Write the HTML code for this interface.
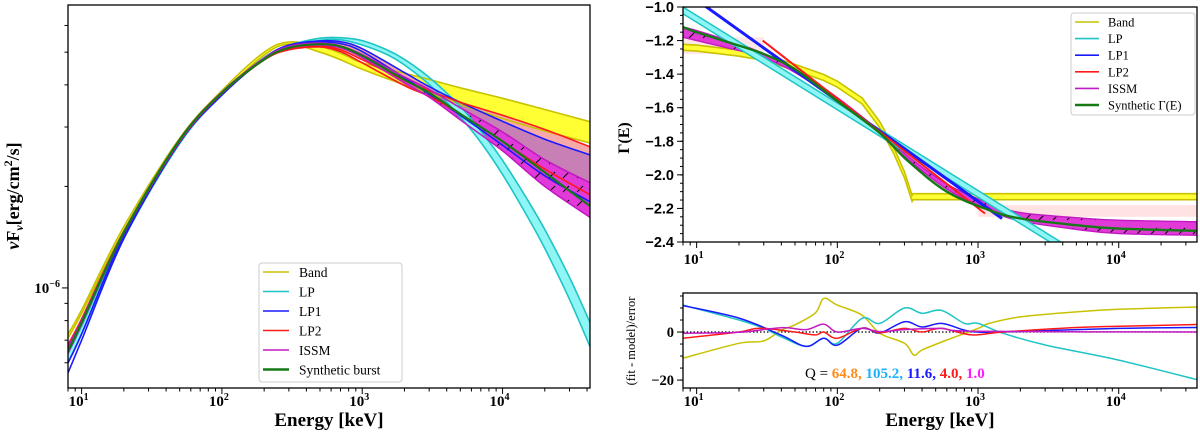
<!DOCTYPE html>
<html><head><meta charset="utf-8">
<style>
html,body{margin:0;padding:0;background:#fff;}
svg{display:block;font-family:"Liberation Serif","DejaVu Serif",serif;}
</style></head>
<body>
<svg id="fig" width="1200" height="434" viewBox="0 0 1200 434" xmlns="http://www.w3.org/2000/svg">
<defs>
<pattern id="hatch" width="14" height="14" patternUnits="userSpaceOnUse">
<path d="M3,10 L9,4" stroke="#000" stroke-width="1"/>
</pattern>
</defs>
<g id="left"></g><g id="rtop"></g><g id="rbot"></g>
</svg>
<script>
// ---------- LEFT PANEL DATA (nuFnu in units of 1e-6) ----------
const E_L = [8,10,20,50,100,200,300,500,700,1000,2000,3000,5000,10000,20000,42000];
const band_hi = [0.73,0.86,1.52,2.78,3.85,5.0,5.36,5.2,4.97,4.65,4.33,4.15,3.92,3.65,3.38,3.11];
const band_lo = [0.71,0.84,1.48,2.72,3.75,4.9,5.28,5.0,4.75,4.45,4.0,3.78,3.5,3.18,2.92,2.69];
const E_LP = [8,10,20,50,100,200,300,500,700,1000,1500,2000,3000,5000,7000,10000,15000,20000,30000,42000];
const lp_hi = [0.64,0.77,1.44,2.72,3.77,4.82,5.23,5.5,5.52,5.41,5.08,4.76,4.21,3.45,2.92,2.39,1.83,1.49,1.075,0.79];
const lp_lo = [0.6,0.73,1.4,2.68,3.73,4.76,5.15,5.42,5.44,5.25,4.92,4.58,4.01,3.21,2.70,2.17,1.63,1.31,0.925,0.67];
const lp1_hi = [0.6,0.73,1.43,2.73,3.76,4.8,5.25,5.4,5.37,5.12,4.35,3.95,3.55,3.12,2.76,2.48];
const lp1_lo = [0.56,0.7,1.4,2.7,3.73,4.77,5.2,5.35,5.3,5.02,4.2,3.75,3.25,2.65,2.15,1.8];
const lp2_hi = [0.68,0.81,1.47,2.74,3.79,4.76,5.12,5.22,5.08,4.75,4.12,3.85,3.55,3.25,2.95,2.62];
const lp2_lo = [0.66,0.79,1.45,2.72,3.77,4.74,5.08,5.18,5.02,4.65,3.98,3.7,3.28,2.72,2.25,1.89];
const issm_hi = [0.67,0.8,1.47,2.76,3.81,4.8,5.2,5.32,5.22,4.92,4.22,3.88,3.42,2.9,2.4,2.05];
const issm_lo = [0.64,0.78,1.45,2.73,3.78,4.76,5.14,5.25,5.15,4.82,4.05,3.68,3.15,2.55,2.0,1.62];
const synth_L = [0.65,0.79,1.46,2.75,3.79,4.76,5.15,5.28,5.2,4.88,4.14,3.79,3.28,2.72,2.2,1.75];
const xTicks = [10,100,1000,10000];
const xTickExp = ["1","2","3","4"];
const yMinorL = [0.6,0.7,0.8,0.9,2,3,4,5,6];

// ---------- RIGHT TOP DATA (Gamma) ----------
const E_band = [8,10,20,30,50,80,100,150,200,250,300,340,345,1000,42000];
const g_band = [-1.24,-1.245,-1.275,-1.3,-1.36,-1.42,-1.46,-1.56,-1.7,-1.85,-2.0,-2.14,-2.13,-2.13,-2.13];
const g_band_half = 0.018;
const E_lp = [8,42000];
const g_lp = [-1.02,-2.96];
const g_lp_half = 0.02;
const E_lp1 = [8,1480];
const g_lp1 = [-0.9,-2.26];
const E_lp2 = [29.5,1120];
const g_lp2 = [-1.2,-2.23];
const E_is = [8,10,20,30,50,100,200,320,600,1200,2000,5000,10000,42000];
const g_is = [-1.15,-1.17,-1.24,-1.29,-1.38,-1.55,-1.75,-1.9,-2.07,-2.19,-2.25,-2.29,-2.31,-2.32];
const g_is_half = [0.03,0.03,0.02,0.012,0.01,0.01,0.01,0.01,0.015,0.02,0.025,0.035,0.04,0.04];
const g_syn = [-1.12,-1.15,-1.23,-1.28,-1.37,-1.56,-1.75,-1.92,-2.1,-2.21,-2.26,-2.3,-2.32,-2.335];
const gTicks = [-1.0,-1.2,-1.4,-1.6,-1.8,-2.0,-2.2,-2.4];
const gTickLabels = ["−1.0","−1.2","−1.4","−1.6","−1.8","−2.0","−2.2","−2.4"];

// ---------- RIGHT BOTTOM DATA (residuals) ----------
const E_ry = [8,20,30,40,50,70,80,100,150,200,300,350,400,600,1000,1200,2000,5000,10000,42000];
const r_band = [-10.9,-4.7,-3.7,0.8,3,8,14,11.2,7,-0.5,-4.7,-9.6,-7.5,-3.3,1.5,3.6,6.3,8.4,9.5,10.5];
const E_rc = [8,20,30,40,60,80,100,150,200,300,400,550,800,1000,1500,3000,10000,42000];
const r_lp = [11.2,5,1.6,-2,-6,-2.6,-4.7,5.7,3.6,10,7.8,9,3.6,3.6,-0.5,-5.4,-11.7,-20.8];
const E_rb = [8,20,40,60,80,100,150,200,300,400,550,800,1000,1500,10000,42000];
const r_lp1 = [11,5.8,-1.3,-6,-2.6,-5.5,1.6,-0.4,4.3,2.1,3.6,0.8,0,0,1.5,1.9];
const E_rr = [8,20,28,50,70,80,100,150,200,300,400,550,900,1500,5000,10000,42000];
const r_lp2 = [-2.6,0,1.6,0,-1.2,0,-2.6,1.6,-0.3,1.5,0,1.5,-1.2,0,1.9,2.4,3.2];
const E_rm = [8,20,40,60,80,100,150,200,300,550,1000,42000];
const r_issm = [-0.5,-0.1,1.8,1,3.3,0,1.5,0.2,1,1.5,0.3,0];
const rTicks = [0,-20];
const rTickLabels = ["0","−20"];
const qValues = ["64.8,","105.2,","11.6,","4.0,","1.0"];
const qColors = ["#ff8c1a","#1ab2ff","#1a1aff","#ff1a1a","#ff1aff"];

// ---------- helpers ----------
const NS="http://www.w3.org/2000/svg";
function mk(parent,tag,attrs){const e=document.createElementNS(NS,tag);for(const k in attrs)e.setAttribute(k,attrs[k]);parent.appendChild(e);return e;}
function logX(x0,x1,emin,emax){const a=Math.log10(emin),b=Math.log10(emax);return e=>x0+(Math.log10(e)-a)/(b-a)*(x1-x0);}
function linY(y0,y1,vmin,vmax){return v=>y1-(v-vmin)/(vmax-vmin)*(y1-y0);}
function logY(y0,y1,vmin,vmax){const a=Math.log10(vmin),b=Math.log10(vmax);return v=>y1-(Math.log10(v)-a)/(b-a)*(y1-y0);}
function smooth(pts){
  if(pts.length<3) return "M"+pts.map(p=>p[0].toFixed(1)+","+p[1].toFixed(1)).join(" L");
  let d="M"+pts[0][0].toFixed(1)+","+pts[0][1].toFixed(1);
  for(let i=0;i<pts.length-1;i++){
    const p0=pts[Math.max(0,i-1)],p1=pts[i],p2=pts[i+1],p3=pts[Math.min(pts.length-1,i+2)];
    const c1=[p1[0]+(p2[0]-p0[0])/6,p1[1]+(p2[1]-p0[1])/6];
    const c2=[p2[0]-(p3[0]-p1[0])/6,p2[1]-(p3[1]-p1[1])/6];
    d+=" C"+c1[0].toFixed(1)+","+c1[1].toFixed(1)+" "+c2[0].toFixed(1)+","+c2[1].toFixed(1)+" "+p2[0].toFixed(1)+","+p2[1].toFixed(1);
  }
  return d;
}
function pts(E,V,X,Y){return E.map((e,i)=>[X(e),Y(V[i])]);}
function lin(pts){return "M"+pts.map(p=>p[0].toFixed(1)+","+p[1].toFixed(1)).join(" L");}
function bandPath(E,hi,lo,X,Y,sm){const a=pts(E,hi,X,Y),b=pts(E,lo,X,Y).reverse();
  const f=sm?smooth:lin; return f(a)+" L"+f(b).slice(1)+" Z";}
function xAxis(g,X,x0,x1,yb,labelY){
  for(let d=0;d<5;d++)for(let m=1;m<10;m++){const e=m*Math.pow(10,d);const x=X(e);if(x<x0-0.5||x>x1+0.5)continue;
    const t=mk(g,"line",{x1:x,x2:x,y1:yb,y2:yb+(m===1?6:3.5),stroke:"#000","stroke-width":1});
    
    }
  xTicks.forEach((e,i)=>{const t=mk(g,"text",{x:X(e)-3,y:labelY,"font-size":15,"text-anchor":"middle","font-weight":"bold"});
    
    
    t.textContent="10";const s=mk(t,"tspan",{dy:-6,"font-size":10});s.textContent=xTickExp[i];});
}

// ---------- LEFT PANEL ----------
(function(){
  const g=document.getElementById("left");
  const x0=68,x1=590,y0=5,y1=388;
  const X=logX(x0,x1,8,42000), Y=logY(y0,y1,0.505,6.9);
  const cp=mk(g,"clipPath",{id:"clipL"});mk(cp,"rect",{x:x0,y:y0,width:x1-x0,height:y1-y0});
  const p=mk(g,"g",{"clip-path":"url(#clipL)"});
  
  
  let e;
  e=mk(p,"path",{d:bandPath(E_L,band_hi,band_lo,X,Y,true),fill:"#ffff33",stroke:"none"});
  
  e=mk(p,"path",{d:bandPath(E_L,lp2_hi,issm_lo,X,Y,true),fill:"#c77fb5",stroke:"none"});
  
  e=mk(p,"path",{d:bandPath(E_L,lp2_hi,lp1_hi,X,Y,true),fill:"#f7a8a8",stroke:"none"});
  
  e=mk(p,"path",{d:bandPath(E_L,issm_hi,issm_lo,X,Y,true),fill:"#e23ad8",stroke:"none"});
  
  e=mk(p,"path",{d:bandPath(E_L,issm_hi,issm_lo,X,Y,true),fill:"url(#hatch)",stroke:"none"});
  
  e=mk(p,"path",{d:bandPath(E_LP,lp_hi,lp_lo,X,Y,true),fill:"#8ff5f5",stroke:"none"});
  
  const lines=[[E_L,band_hi,"#c8c200","band-upper"],[E_L,band_lo,"#c8c200","band-lower"],[E_LP,lp_hi,"#1fc4c4","lp-upper"],[E_LP,lp_lo,"#1fc4c4","lp-lower"],
    [E_L,lp1_hi,"#1a1aff","lp1-upper"],[E_L,lp1_lo,"#1a1aff","lp1-lower"],[E_L,lp2_hi,"#ff1a1a","lp2-upper"],[E_L,lp2_lo,"#ff1a1a","lp2-lower"],
    [E_L,issm_hi,"#c21ac2","issm-upper"],[E_L,issm_lo,"#c21ac2","issm-lower"]];
  lines.forEach(l=>{const q=mk(p,"path",{d:smooth(pts(l[0],l[1],X,Y)),fill:"none",stroke:l[2],"stroke-width":1.6});
    
    });
  e=mk(p,"path",{d:smooth(pts(E_L,synth_L,X,Y)),fill:"none",stroke:"#157a15","stroke-width":2.2});
  
  e=mk(g,"rect",{x:x0,y:y0,width:x1-x0,height:y1-y0,fill:"none",stroke:"#000","stroke-width":1.3});
  
  xAxis(g,X,x0,x1,y1,406);
  yMinorL.forEach(v=>{const t=mk(g,"line",{x1:x0-3.5,x2:x0,y1:Y(v),y2:Y(v),stroke:"#000"});
    });
  e=mk(g,"line",{x1:x0-6,x2:x0,y1:Y(1),y2:Y(1),stroke:"#000"});
  
  e=mk(g,"text",{x:x0-8,y:Y(1)+5,"font-size":15,"text-anchor":"end","font-weight":"bold"});
  
  e.textContent="10";let s=mk(e,"tspan",{dy:-6,"font-size":10});s.textContent="−6";
  e=mk(g,"text",{x:x0+(x1-x0)/2,y:426,"font-size":19,"text-anchor":"middle","font-weight":"bold"});
  e.textContent="Energy [keV]";
  e=mk(g,"text",{transform:"translate(19,196) rotate(-90)","font-size":18,"text-anchor":"middle","font-weight":"bold"});
  
  e.innerHTML='<tspan font-style="italic">ν</tspan>F<tspan font-size="12" dy="4" font-style="italic">ν</tspan><tspan dy="-4">[erg/cm</tspan><tspan font-size="12" dy="-7">2</tspan><tspan dy="7">/s]</tspan>';
  const lg=mk(g,"g",{});
  mk(lg,"rect",{x:259,y:263,width:143,height:119,rx:3,fill:"#fff",stroke:"#ccc"});
  const entries=[["Band","#c8c200",1.6],["LP","#1fc4c4",1.6],["LP1","#1a1aff",1.6],["LP2","#ff1a1a",1.6],["ISSM","#c21ac2",1.6],["Synthetic burst","#157a15",2.4]];
  entries.forEach((en,i)=>{const yy=272+i*19.5;
    const l=mk(lg,"line",{x1:263,x2:289,y1:yy,y2:yy,stroke:en[1],"stroke-width":en[2]});
    
    const t=mk(lg,"text",{x:299,y:yy+5,"font-size":13.5});
    t.textContent=en[0];});
})();

// ---------- RIGHT TOP PANEL ----------
(function(){
  const g=document.getElementById("rtop");
  const x0=683,x1=1197,y0=7,y1=242;
  const X=logX(x0,x1,8,36000), Y=linY(y0,y1,-2.4,-1.0);
  const cp=mk(g,"clipPath",{id:"clipR"});mk(cp,"rect",{x:x0,y:y0,width:x1-x0,height:y1-y0});
  const p=mk(g,"g",{"clip-path":"url(#clipR)"});
  
  let e;
  e=mk(p,"rect",{x:X(1000),y:Y(-2.18),width:x1-X(1000),height:Y(-2.25)-Y(-2.18),fill:"#ffb0b0",opacity:0.35});
  
  e=mk(p,"rect",{x:x0,y:Y(-1.18),width:X(30)-x0,height:Y(-1.28)-Y(-1.18),fill:"#ffb0b0",opacity:0.3});
  
  const bh=g_band.map(v=>v+g_band_half), bl=g_band.map(v=>v-g_band_half);
  e=mk(p,"path",{d:bandPath(E_band,bh,bl,X,Y,false),fill:"#ffff33"});
  
  [bh,bl].forEach(a=>{const q=mk(p,"path",{d:lin(pts(E_band,a,X,Y)),fill:"none",stroke:"#c8c200","stroke-width":1.6});
    });
  const ih=g_is.map((v,i)=>v+g_is_half[i]), il=g_is.map((v,i)=>v-g_is_half[i]);
  e=mk(p,"path",{d:bandPath(E_is,ih,il,X,Y,true),fill:"#e23ad8"});
  
  e=mk(p,"path",{d:bandPath(E_is,ih,il,X,Y,true),fill:"url(#hatch)"});
  
  [ih,il].forEach(a=>{const q=mk(p,"path",{d:smooth(pts(E_is,a,X,Y)),fill:"none",stroke:"#c21ac2","stroke-width":1.4});
    });
  const lh=g_lp.map(v=>v+g_lp_half), ll=g_lp.map(v=>v-g_lp_half);
  e=mk(p,"path",{d:bandPath(E_lp,lh,ll,X,Y,false),fill:"#8ff5f5"});
  
  [lh,ll].forEach(a=>{const q=mk(p,"path",{d:lin(pts(E_lp,a,X,Y)),fill:"none",stroke:"#1fc4c4","stroke-width":1.5});
    });
  e=mk(p,"path",{d:lin(pts(E_lp1,g_lp1,X,Y)),fill:"none",stroke:"#1a1aff","stroke-width":3});
  
  e=mk(p,"path",{d:lin(pts(E_lp2,g_lp2,X,Y)),fill:"none",stroke:"#ff1a1a","stroke-width":2});
  
  e=mk(p,"path",{d:smooth(pts(E_is,g_syn,X,Y)),fill:"none",stroke:"#157a15","stroke-width":2.4});
  
  e=mk(g,"rect",{x:x0,y:y0,width:x1-x0,height:y1-y0,fill:"none",stroke:"#000","stroke-width":1.3});
  
  xAxis(g,X,x0,x1,y1,264);
  for(let v=-2.4;v<=-0.999;v+=0.05){const t=mk(g,"line",{x1:x0-3,x2:x0,y1:Y(v),y2:Y(v),stroke:"#000"});
    }
  gTicks.forEach((v,i)=>{const t=mk(g,"line",{x1:x0-6,x2:x0,y1:Y(v),y2:Y(v),stroke:"#000"});
    
    const l=mk(g,"text",{x:x0-9,y:Y(v)+5,"font-size":14.5,"text-anchor":"end","font-weight":"bold","font-family":"Liberation Sans, sans-serif"});
    l.textContent=gTickLabels[i];});
  e=mk(g,"text",{transform:"translate(629,138) rotate(-90)","font-size":16,"text-anchor":"middle","font-weight":"bold"});
  e.textContent="Γ(E)";
  const lg=mk(g,"g",{});
  mk(lg,"rect",{x:1071,y:13,width:124,height:102,rx:3,fill:"#fff",stroke:"#ccc"});
  const entries=[["Band","#c8c200",1.6],["LP","#1fc4c4",1.6],["LP1","#1a1aff",1.6],["LP2","#ff1a1a",1.6],["ISSM","#c21ac2",1.6],["Synthetic Γ(E)","#157a15",2.4]];
  entries.forEach((en,i)=>{const yy=22+i*16.6;
    const l=mk(lg,"line",{x1:1075,x2:1099,y1:yy,y2:yy,stroke:en[1],"stroke-width":en[2]});
    
    const t=mk(lg,"text",{x:1108,y:yy+4.5,"font-size":12.5});
    t.textContent=en[0];});
})();

// ---------- RIGHT BOTTOM PANEL ----------
(function(){
  const g=document.getElementById("rbot");
  const x0=683,x1=1197,y0=293,y1=388;
  const X=logX(x0,x1,8,36000), Y=linY(y0,y1,-23.3,16.25);
  const cp=mk(g,"clipPath",{id:"clipB"});mk(cp,"rect",{x:x0,y:y0,width:x1-x0,height:y1-y0});
  const p=mk(g,"g",{"clip-path":"url(#clipB)"});
  
  let e=mk(p,"line",{x1:x0,x2:x1,y1:Y(0),y2:Y(0),stroke:"#000","stroke-dasharray":"1.5,2","stroke-width":1.3});
  
  const ser=[[E_ry,r_band,"#c8c200","band"],[E_rc,r_lp,"#1fc4c4","lp"],[E_rb,r_lp1,"#1a1aff","lp1"],[E_rr,r_lp2,"#ff1a1a","lp2"],[E_rm,r_issm,"#c21ac2","issm"]];
  ser.forEach(s=>{const q=mk(p,"path",{d:smooth(pts(s[0],s[1],X,Y)),fill:"none",stroke:s[2],"stroke-width":1.5});
    });
  e=mk(g,"rect",{x:x0,y:y0,width:x1-x0,height:y1-y0,fill:"none",stroke:"#000","stroke-width":1.3});
  
  xAxis(g,X,x0,x1,y1,406);
  for(let v=-20;v<=15;v+=5){const t=mk(g,"line",{x1:x0-3,x2:x0,y1:Y(v),y2:Y(v),stroke:"#000"});
    }
  rTicks.forEach((v,i)=>{const t=mk(g,"line",{x1:x0-6,x2:x0,y1:Y(v),y2:Y(v),stroke:"#000"});
    
    const l=mk(g,"text",{x:x0-9,y:Y(v)+5,"font-size":14.5,"text-anchor":"end","font-weight":"bold"});
    l.textContent=rTickLabels[i];});
  e=mk(g,"text",{transform:"translate(635,341) rotate(-90)","font-size":12.5,"text-anchor":"middle"});
  e.textContent="(fit - model)/error";
  e=mk(g,"text",{x:940,y:426,"font-size":19,"text-anchor":"middle","font-weight":"bold"});
  e.textContent="Energy [keV]";
  const q=mk(g,"text",{x:805,y:378,"font-size":15});
  
  const t0=mk(q,"tspan",{fill:"#000"});t0.textContent="Q = ";
  qValues.forEach((v,i)=>{const t=mk(q,"tspan",{fill:qColors[i],"font-weight":"bold"});t.textContent=v+(i<qValues.length-1?" ":"");});
})();
</script>
</body></html>
